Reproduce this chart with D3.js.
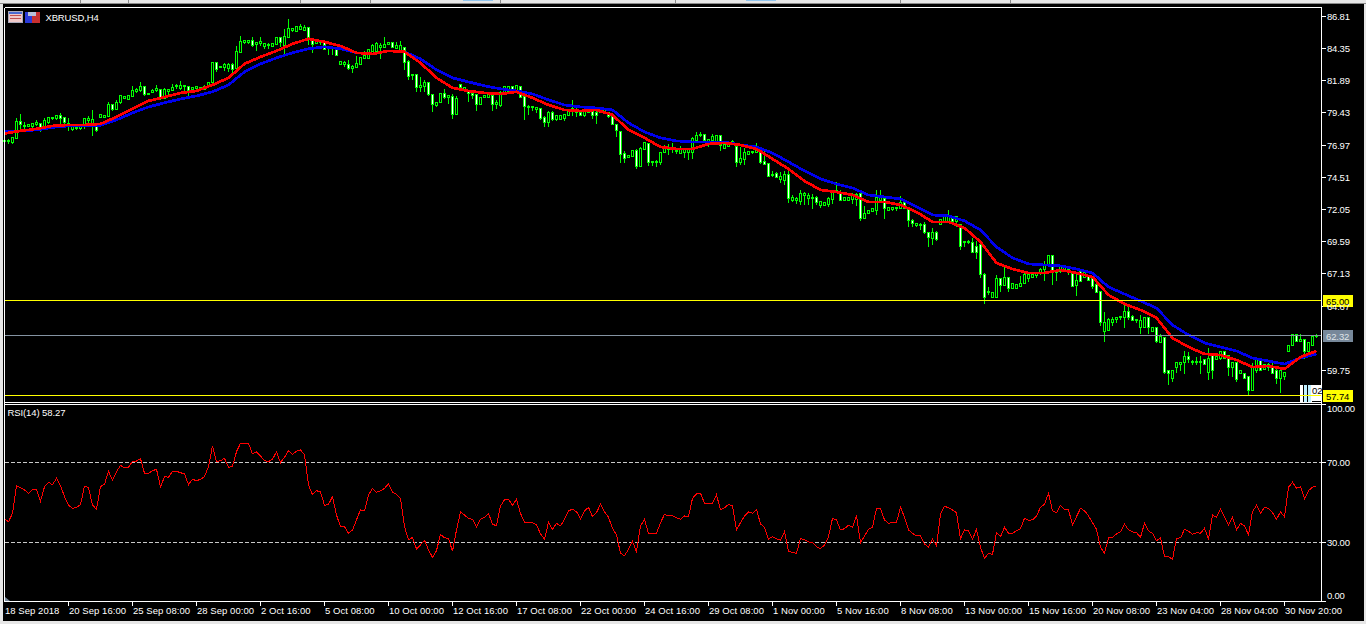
<!DOCTYPE html>
<html><head><meta charset="utf-8">
<script src="https://cdnjs.cloudflare.com/ajax/libs/d3/7.8.5/d3.min.js"></script>
<style>
html,body{margin:0;padding:0;background:#000;overflow:hidden}
svg{display:block}
text{font-family:"Liberation Sans",Arial,sans-serif;font-size:9.5px;fill:#fff}
.axis{letter-spacing:-.2px}
.time{letter-spacing:.05px}
.title{letter-spacing:-.15px}
.rsi{letter-spacing:-.1px}
</style></head><body>
<div id="chart"></div>
<script>
const symbolLabel="XBRUSD,H4", rsiLabel="RSI(14) 58.27";
const timeLabels=["18 Sep 2018","20 Sep 16:00","25 Sep 08:00","28 Sep 00:00","2 Oct 16:00","5 Oct 08:00","10 Oct 00:00","12 Oct 16:00","17 Oct 08:00","22 Oct 00:00","24 Oct 16:00","29 Oct 08:00","1 Nov 00:00","5 Nov 16:00","8 Nov 08:00","13 Nov 00:00","15 Nov 16:00","20 Nov 08:00","23 Nov 04:00","28 Nov 04:00","30 Nov 20:00"];
const priceTicks=[86.81,84.35,81.89,79.43,76.97,74.51,72.05,69.59,67.13,64.67,59.75];
const rsiTicks=[100,70,30,0];
const rsiLevels=[70,30];
const levelHigh=65.00, levelLow=57.74, lastPrice=62.32;

const opens=[77.13,77.13,77.06,77.36,78.66,78.28,78.28,78.28,78.43,78.51,
78.28,78.59,78.97,78.89,79.12,78.97,78.51,78.05,78.13,78.13,
78.28,78.74,78.28,78.28,78.97,78.97,79.05,79.96,79.58,80.12,
80.42,80.35,80.57,80.96,81.03,81.34,80.73,80.88,81.03,81.11,
80.42,80.96,81.03,81.34,81.19,81.34,81.34,81.11,81.19,81.19,
81.11,81.34,81.64,83.17,82.79,82.79,82.72,83.02,82.72,83.94,
84.70,84.70,84.86,84.55,84.63,84.40,84.47,84.40,84.55,85.09,
84.47,85.09,85.62,85.54,85.70,85.62,85.85,84.86,84.63,84.70,
84.70,84.25,84.25,84.25,83.02,83.02,83.02,82.72,82.79,83.02,
83.48,83.48,84.02,84.02,84.32,84.32,84.55,84.70,84.25,84.02,
84.32,83.25,82.18,82.26,81.26,81.34,81.64,80.73,79.89,80.12,
80.80,80.50,80.57,79.20,81.49,81.03,81.03,80.80,80.73,79.96,
80.50,80.50,80.65,79.96,79.89,80.88,80.96,81.34,80.96,81.34,
80.57,79.73,79.73,79.58,79.66,78.97,78.59,79.35,78.82,78.82,
78.89,79.12,79.50,79.35,79.35,79.12,79.35,79.43,79.35,79.35,
79.27,79.35,79.05,78.43,77.90,76.22,75.91,75.99,76.45,75.22,
76.52,76.98,75.53,75.53,75.53,76.29,76.52,76.52,76.37,76.22,
76.29,76.29,76.29,77.21,77.59,77.67,77.06,77.21,77.13,77.59,
76.60,76.75,76.90,76.75,75.53,75.76,76.14,76.29,76.29,76.52,
75.61,75.45,74.53,74.69,74.23,74.15,74.61,72.62,72.62,72.55,
73.01,72.78,72.78,72.85,72.24,72.24,72.32,72.70,73.24,73.16,
72.62,72.62,72.70,72.70,73.16,71.32,71.63,71.78,71.86,72.62,
72.78,71.86,71.94,72.01,72.01,72.47,72.01,71.10,70.71,70.71,
70.79,70.18,69.72,70.18,70.79,70.94,71.02,71.40,71.02,70.79,
69.41,69.41,69.41,69.18,69.26,67.04,65.59,65.21,65.21,66.66,
66.13,66.81,65.97,65.97,66.05,66.28,66.66,66.81,66.89,67.12,
67.35,67.73,68.42,67.12,67.20,67.20,67.27,67.12,66.13,67.20,
66.81,66.89,66.74,66.20,65.67,62.61,62.76,63.37,63.53,63.68,
63.75,64.21,63.83,63.45,62.99,62.99,63.75,62.61,62.99,61.84,
62.15,59.70,59.02,59.93,60.16,60.24,60.70,60.24,60.31,60.24,
60.47,59.55,61.00,60.54,60.62,61.08,60.85,59.86,60.31,59.47,
59.47,59.17,58.17,59.70,60.47,59.78,59.86,59.86,59.63,59.09,
59.17,61.08,61.61,62.38,61.92,62.07,61.08,61.61,62.23];
const highs=[77.29,77.36,77.44,78.97,79.27,78.66,78.43,78.59,78.82,78.51,
78.97,79.05,78.97,79.20,79.35,78.97,78.97,78.28,78.20,78.36,
78.97,79.12,79.58,78.28,79.20,79.12,80.19,79.96,80.35,80.65,
80.57,80.65,81.42,81.26,81.72,81.34,80.80,81.19,81.49,81.19,
81.26,81.11,81.57,81.57,81.80,81.49,81.34,81.34,81.34,81.34,
81.49,81.64,83.25,83.17,82.87,83.17,83.17,83.17,84.47,85.24,
84.86,84.86,85.16,84.78,85.16,84.70,84.70,84.63,85.09,85.16,
85.77,86.54,85.77,86.00,86.16,86.08,85.85,84.86,84.86,84.86,
84.78,84.32,84.32,84.25,83.33,83.33,83.40,83.02,83.71,83.56,
84.09,84.17,84.63,84.78,84.70,85.16,84.70,84.70,84.78,84.86,
84.32,83.40,82.26,82.33,82.10,81.87,81.72,80.73,80.19,80.80,
81.19,80.73,80.80,80.65,81.49,81.26,81.03,81.11,80.73,80.50,
80.65,80.88,80.80,80.35,81.03,81.42,81.42,81.42,81.49,81.34,
80.57,79.96,79.89,79.81,79.73,79.12,79.50,79.50,79.12,79.12,
79.20,79.58,80.35,79.73,79.50,79.66,79.73,79.66,79.58,79.66,
79.66,79.35,79.05,78.43,77.90,76.45,76.06,76.45,76.60,76.75,
77.13,76.98,75.61,75.76,76.29,76.90,76.98,77.06,76.52,76.83,
76.52,76.52,77.52,77.90,77.90,77.67,77.29,77.75,77.59,77.59,
76.90,76.90,77.29,76.75,76.75,76.67,76.37,76.45,77.06,76.52,
76.52,75.45,74.92,74.84,74.84,74.92,74.92,73.08,72.93,73.46,
73.31,73.24,73.16,73.01,72.62,72.47,72.93,73.24,74.08,73.46,
72.85,72.85,73.24,73.24,73.16,72.24,71.86,72.09,73.46,73.46,
72.78,72.17,72.09,72.17,73.01,72.47,72.01,71.25,70.94,70.94,
71.02,70.18,70.56,70.33,71.17,71.48,71.94,71.40,71.48,70.79,
69.49,69.64,69.80,69.57,69.26,67.12,66.05,65.67,66.97,66.66,
67.58,66.81,66.28,66.20,66.89,67.20,66.97,66.97,67.20,67.50,
68.04,68.42,68.42,67.20,67.58,67.58,67.50,67.12,67.12,67.20,
67.12,66.89,66.74,66.20,65.67,64.14,63.75,63.83,63.83,63.83,
64.83,64.52,63.91,63.60,63.91,63.75,63.75,62.92,62.99,62.53,
62.15,59.70,59.70,60.31,60.31,61.23,61.08,60.47,60.70,60.85,
60.62,61.46,61.00,60.77,61.08,61.08,60.85,60.24,60.31,59.63,
59.47,59.17,60.31,60.47,60.47,60.16,60.31,60.31,59.86,59.86,
59.55,61.61,62.53,62.38,62.46,62.07,61.84,62.23,62.46];
const lows=[77.06,76.98,76.98,77.36,78.13,78.05,78.28,78.13,78.36,77.90,
78.20,78.51,78.82,78.82,78.51,78.43,77.98,77.98,78.05,78.05,
78.13,78.59,77.59,77.90,78.97,78.97,79.05,79.50,79.58,80.04,
80.42,80.35,80.57,80.88,80.96,80.65,80.73,80.88,80.96,80.35,
80.42,80.57,81.03,81.19,81.11,81.03,80.65,81.03,80.96,81.11,
81.11,81.34,81.64,82.49,82.79,82.56,82.49,82.41,82.41,83.94,
84.63,84.63,84.40,84.09,84.47,84.25,84.25,84.40,84.55,84.40,
83.71,85.09,85.54,85.54,85.70,85.62,84.55,83.94,84.63,84.55,
84.17,83.79,83.79,83.71,83.02,82.87,82.64,82.41,82.79,83.02,
83.48,83.48,84.02,84.02,83.48,84.32,84.55,84.32,84.25,84.02,
82.64,81.87,81.87,80.96,80.96,80.96,80.65,79.43,79.81,80.12,
80.42,80.04,78.89,79.20,81.26,80.96,80.19,80.42,79.50,79.96,
80.50,80.50,79.50,79.66,79.81,80.88,80.96,80.96,80.96,80.50,
78.82,79.20,79.50,79.35,78.82,78.28,78.28,78.74,78.74,78.82,
78.74,79.12,79.12,79.05,79.12,79.05,79.35,78.89,78.51,79.35,
79.27,78.97,78.43,77.52,75.53,75.53,75.91,75.99,75.07,75.22,
76.52,75.30,75.30,75.22,75.38,76.29,76.14,76.29,76.22,76.22,
75.91,75.76,75.83,77.21,77.52,77.21,76.75,77.06,77.13,76.45,
76.60,76.75,76.90,75.22,75.38,75.38,76.14,76.22,76.29,75.45,
75.38,74.46,74.46,74.38,74.00,73.85,72.47,72.55,72.39,72.32,
72.32,72.32,72.01,72.32,72.09,72.24,72.17,72.39,73.24,72.62,
72.62,72.62,72.39,72.24,71.10,71.32,71.63,71.78,71.55,72.62,
71.25,71.86,71.86,71.86,72.01,72.01,70.64,70.64,70.64,70.41,
70.10,69.18,69.26,69.57,70.79,70.94,71.02,70.79,70.64,68.88,
69.11,69.34,68.65,68.19,66.74,64.75,65.51,65.21,65.21,65.67,
66.13,65.74,65.97,65.97,66.05,66.28,66.43,66.74,66.81,67.04,
66.58,67.73,66.20,66.58,67.12,67.20,66.97,66.05,65.36,66.43,
66.81,66.51,65.90,65.59,63.14,61.92,62.76,63.14,63.30,63.53,
62.99,63.53,63.45,63.37,62.53,62.92,62.46,62.61,61.77,61.84,
59.47,58.56,58.79,59.55,59.70,59.47,60.24,60.16,60.09,59.47,
60.09,58.94,59.09,60.47,60.47,60.62,59.32,59.17,58.79,59.40,
59.09,57.79,58.17,59.55,59.70,59.78,59.70,59.47,58.71,58.02,
58.94,61.08,61.61,61.92,61.92,60.62,61.08,61.61,62.15];
const closes=[77.21,77.21,77.44,78.66,78.43,78.36,78.43,78.51,78.59,78.13,
78.74,78.97,78.89,79.12,78.89,78.59,78.28,78.28,78.20,78.28,
78.89,78.89,78.82,77.98,79.20,79.12,79.96,79.58,80.12,80.65,
80.57,80.65,81.03,81.11,81.34,80.73,80.80,81.03,81.19,80.50,
81.11,81.11,81.26,81.42,81.42,81.42,81.03,81.26,81.34,81.26,
81.34,81.64,83.17,82.64,82.87,83.02,83.02,82.64,84.02,84.78,
84.86,84.86,84.47,84.70,84.78,84.63,84.55,84.63,85.09,84.70,
85.16,85.77,85.77,85.93,85.93,85.85,85.09,84.55,84.86,84.86,
84.17,84.32,84.32,83.71,83.25,83.17,82.72,82.87,83.10,83.56,
83.71,84.17,84.47,84.63,84.47,84.55,84.70,84.32,84.47,84.47,
83.17,82.10,82.26,81.26,81.42,81.64,80.73,79.96,80.12,80.80,
80.50,80.65,79.20,80.42,81.26,81.26,80.80,80.65,79.96,80.50,
80.65,80.88,79.96,80.12,80.88,81.34,81.34,80.96,81.42,80.50,
79.81,79.81,79.81,79.73,78.89,78.59,79.35,78.82,79.12,79.12,
79.20,79.58,79.66,79.50,79.12,79.43,79.66,79.12,79.12,79.66,
79.66,79.05,78.43,77.98,76.14,75.83,76.06,76.45,75.22,76.60,
77.06,75.53,75.61,75.61,76.29,76.75,76.67,76.60,76.45,76.52,
76.52,76.52,77.36,77.59,77.67,77.21,77.29,77.52,77.59,76.83,
76.90,76.90,77.13,75.53,75.83,76.29,76.37,76.37,76.45,75.53,
75.38,74.46,74.61,74.38,74.46,74.61,72.78,72.85,72.78,73.16,
73.16,73.01,72.85,72.47,72.55,72.47,72.78,73.24,73.39,72.62,
72.85,72.85,73.01,73.08,71.32,71.63,71.86,72.01,72.85,72.85,
72.01,72.09,72.09,72.09,72.47,72.01,71.10,70.87,70.87,70.79,
70.18,69.80,70.18,69.64,71.17,71.40,71.40,71.02,71.40,69.11,
69.49,69.49,68.65,68.65,66.97,65.28,65.74,65.59,66.66,66.13,
66.81,65.97,66.28,66.20,66.35,66.97,66.97,66.97,67.12,67.42,
67.73,68.42,67.12,67.20,67.58,67.58,67.35,66.05,66.58,66.43,
67.12,66.51,66.05,65.59,63.30,63.30,63.60,63.60,63.68,63.83,
64.21,63.68,63.45,63.60,63.45,63.75,62.99,62.92,61.92,62.23,
59.55,59.47,59.70,60.31,60.31,60.70,60.47,60.39,60.39,60.39,
60.16,60.62,59.63,60.70,61.08,60.62,59.86,60.24,58.94,59.63,
59.09,58.17,59.86,60.47,59.70,60.16,60.09,59.47,59.02,59.63,
59.55,61.61,62.38,61.92,62.07,61.08,61.84,62.23,62.32];

// moving averages, read every fourth bar
const maStep=4;
const maRed=[77.78,77.98,78.13,78.36,78.43,78.43,78.51,79.05,79.66,80.27,80.57,80.88,81.03,81.49,82.03,83.10,83.63,84.09,84.63,85.01,84.78,84.47,83.94,83.86,84.09,84.02,83.17,82.03,81.26,81.03,80.88,80.80,80.96,80.50,79.96,79.58,79.50,79.58,79.20,78.05,77.44,76.75,76.60,76.60,76.98,77.06,76.90,76.60,75.83,75.07,74.15,73.46,73.31,73.08,72.55,72.55,72.32,71.78,71.02,71.02,70.56,69.49,67.88,67.42,67.12,67.12,67.35,67.12,66.81,65.44,64.75,64.29,63.68,62.15,61.46,60.93,60.85,60.47,59.93,60.01,59.78,60.70,61.16];
const maBlue=[77.90,77.98,78.05,78.24,78.36,78.36,78.40,78.82,79.35,79.81,80.12,80.42,80.65,80.96,81.49,82.49,83.10,83.56,83.94,84.25,84.40,84.25,83.94,83.86,84.09,84.02,83.48,82.64,82.03,81.72,81.42,81.19,81.03,80.80,80.35,79.96,79.81,79.73,79.58,78.59,77.90,77.44,77.21,77.13,77.13,77.13,76.90,76.75,76.29,75.61,74.92,74.31,73.92,73.62,73.08,72.93,72.78,72.17,71.55,71.48,71.10,70.41,69.11,68.27,67.81,67.73,67.66,67.42,67.12,66.05,65.51,64.98,64.44,63.14,62.38,61.77,61.46,61.16,60.62,60.39,60.16,60.62,60.93];

const rsi=[41.6,40.3,44.5,58.3,57.3,56.2,54.5,56.5,56.5,50.6,57.8,60,58.8,62,58.3,52.8,48.6,47,47.5,48.8,
58.1,57.3,48.6,46.5,57.8,59,65.5,61,65.3,68.5,67.2,67.5,70.5,70.6,71.8,64.5,64.5,65.8,66.5,57.8,
62.8,62.5,65.5,65.5,64.8,64.2,58.8,61.5,60.8,61.5,62.8,67.8,78.2,70.3,70.8,72,67.5,68,75.3,79.5,
79.5,79.5,74.2,75.2,73.2,70.8,70.3,71.5,75.2,69.8,72.5,75.8,74,75.5,76.2,73.7,58.7,53.8,55.8,55.2,
48.5,49,52.8,43.6,37.8,37.8,34.5,36.2,41.2,46.2,45.7,53.7,57,55,55.7,57,59.2,55,54,52,
37.8,31.2,32.5,26.7,28.7,31,26.2,22.5,25.8,34,32.2,32,25.5,36.2,45.2,43.7,41.8,41.5,37.5,41.5,
42.5,44.5,39,38.3,48.1,51.3,51.5,48.6,51.5,44.5,40,40,39.8,38.8,34.2,31.5,40,36.5,39.5,38.2,
41.5,45.8,46.5,45.3,41.8,45.7,47.5,42.8,44.8,49.1,45.3,42.5,37,33.7,24.5,23.3,26.5,30.5,25.3,38.2,
41.5,34.5,34.5,34.5,39.8,44,43.2,43.2,42.2,41.5,43.2,42.8,52,54.2,54.5,49.5,49.5,49.5,53.8,46.2,
47.2,49,48.2,36.2,39.8,43.2,45.2,44.5,46.5,39.2,37.5,31.6,32.8,31.8,31,35.3,25.3,25,24.5,32,
31.2,30.2,29.8,27.8,26.8,28.7,32.8,42,41.2,36.2,36.8,38.5,37.5,43.5,29.8,33.2,36.5,37.5,47,46.8,
41.2,39.5,40,40,47.5,42.5,36.2,34.5,33.2,33.2,29.2,27.5,31.5,28.3,44.2,48,47.3,46.2,44.8,31.8,
36.2,35.7,31.5,36.5,27.5,22,24.5,24,34.8,32.8,37.5,34.5,34.5,35.7,36.8,42,41,41.2,43.2,47.5,
49.1,54.5,45.8,44.8,48.5,46.5,46.2,38.8,42.8,47,45.8,43.2,39.8,36.5,27.5,24.5,32.2,32.5,34.2,35.2,
39.2,36.2,35.2,34.8,32.5,39.5,35.7,34.5,30.8,32.2,22.8,22.8,21.5,32,32.2,36.5,35.5,34,34.8,34.5,
37,31.8,43.7,42.5,46.5,42.5,38.5,42.5,36.2,39.5,38.2,33.8,45.3,48.5,44.5,47.5,47,44.8,41.5,45.2,
42.8,57.5,60,57,57.8,51.8,55.8,57.5,58.27];

const W=1366,H=624;
const X=d3.scaleLinear().domain([0,opens.length-1]).range([4.5,1316.5]);
const Y=d3.scaleLinear().domain([57.74,65]).range([395.7,300.7]);
const R=d3.scaleLinear().domain([0,100]).range([602.3,402.3]);
const snap=v=>Math.round(v-0.5)+0.5;

const svg=d3.select("#chart").append("svg").attr("width",W).attr("height",H);
// window chrome
svg.append("rect").attr("width",W).attr("height",H).attr("fill","#000");
const chrome="#e6e6e6";
svg.append("rect").attr("width",W).attr("height",3).attr("fill",chrome);
svg.append("rect").attr("y",3).attr("width",W).attr("height",1).attr("fill","#8a8a8a");
svg.append("rect").attr("y",4).attr("width",3).attr("height",H-4).attr("fill",chrome);
svg.append("rect").attr("y",621).attr("width",W).attr("height",3).attr("fill",chrome);
svg.append("rect").attr("x",1364).attr("y",4).attr("width",2).attr("height",H-4).attr("fill",chrome);
[80,128,300,370,500,675,900,1010].forEach(x=>svg.append("rect").attr("x",x).attr("y",0).attr("width",1).attr("height",3).attr("fill","#8a8a8a"));
svg.append("rect").attr("x",463).attr("y",0).attr("width",30).attr("height",1).attr("fill","#90c4ee");
svg.append("rect").attr("x",746).attr("y",0).attr("width",30).attr("height",1).attr("fill","#90c4ee");

const crisp=svg.append("g").attr("shape-rendering","crispEdges");

// candles
const bars=d3.range(opens.length);
crisp.append("g").selectAll("line").data(bars).join("line")
 .attr("x1",i=>X(i)).attr("x2",i=>X(i))
 .attr("y1",i=>snap(Y(highs[i]))).attr("y2",i=>snap(Y(lows[i]))+0.5)
 .attr("stroke","#00ff00").attr("stroke-width",1);
crisp.append("g").selectAll("rect").data(bars).join("rect")
 .attr("x",i=>X(i)-1).attr("width",2)
 .attr("y",i=>snap(Y(Math.max(opens[i],closes[i]))))
 .attr("height",i=>Math.max(0,snap(Y(Math.min(opens[i],closes[i])))-snap(Y(Math.max(opens[i],closes[i])))))
 .attr("fill",i=>closes[i]<opens[i]?"#fff":"#000")
 .attr("stroke","#00ff00").attr("stroke-width",1);

// price artefact near the last bars
[[1300,3,"#fff"],[1304,3,"#bfefff"],[1308,3,"#bfefff"],[1311,1,"#fff"]].forEach(d=>
 crisp.append("rect").attr("x",d[0]).attr("y",385).attr("width",d[1]).attr("height",17).attr("fill",d[2]));
crisp.append("rect").attr("x",1312).attr("y",385).attr("width",10).attr("height",16).attr("fill","#fff");
svg.append("text").attr("x",1312).attr("y",394).style("fill","#000").text("02");

// moving averages
const lineMa=d3.line().x((d,i)=>X(i*maStep)).y(d=>Y(d));
crisp.append("path").datum(maBlue).attr("d",lineMa).attr("fill","none").attr("stroke","#0000ee").attr("stroke-width",2.7);
crisp.append("path").datum(maRed).attr("d",lineMa).attr("fill","none").attr("stroke","#ff0000").attr("stroke-width",2.7);

// horizontal levels
[[levelHigh,"#ffff00"],[levelLow,"#ffff00"],[lastPrice,"#8493a2"]].forEach(d=>
 crisp.append("line").attr("x1",5).attr("x2",1322).attr("y1",snap(Y(d[0]))).attr("y2",snap(Y(d[0]))).attr("stroke",d[1]));

// RSI
rsiLevels.forEach(v=>crisp.append("line").attr("x1",5).attr("x2",1321).attr("y1",snap(R(v))).attr("y2",snap(R(v)))
  .attr("stroke","#c8c8c8").attr("stroke-dasharray","4 2"));
crisp.append("path").datum(rsi).attr("d",d3.line().x((d,i)=>X(i)).y(d=>R(d))).attr("fill","none").attr("stroke","#ff0000").attr("stroke-width",1);

// frames
const frame=(x1,y1,x2,y2)=>crisp.append("line").attr("x1",x1).attr("y1",y1).attr("x2",x2).attr("y2",y2).attr("stroke","#fff");
frame(4.5,7.5,1321.5,7.5);frame(4.5,7.5,4.5,601.5);frame(1321.5,7.5,1321.5,601.5);
frame(4.5,402.5,1321.5,402.5);frame(4.5,404.5,1321.5,404.5);frame(4.5,601.5,1321.5,601.5);

// price axis
priceTicks.forEach(v=>{
  const y=snap(Y(v))+1;
  frame(1322,y,1326,y);
  svg.append("text").attr("class","axis").attr("x",1327).attr("y",y+3.5).text(v.toFixed(2));
});
// RSI axis
rsiTicks.forEach(v=>{
  const ty=Math.min(601.5,Math.max(404.5,snap(R(v))));
  frame(1322,ty,1326,ty);
  const ly=Math.min(595,Math.max(408.5,snap(R(v))));
  svg.append("text").attr("class","axis").attr("x",1327).attr("y",ly+3.5).text(v.toFixed(2));
});
// price badges
[[levelHigh,"#ffff00","#000"],[lastPrice,"#77889a","#dfe4e8"],[levelLow,"#ffff00","#000"]].forEach(d=>{
  const y=snap(Y(d[0]));
  crisp.append("rect").attr("x",1323).attr("y",y-6).attr("width",30).attr("height",12).attr("fill",d[1]);
  svg.append("text").attr("x",1326).attr("y",y+4).style("fill",d[2]).style("letter-spacing","-.1px").text(d[0].toFixed(2));
});

// time axis
timeLabels.forEach((t,k)=>{
  const xp=Math.floor(X(k*16));
  if(k>0) frame(xp+0.5,601.5,xp+0.5,605.5);
  svg.append("text").attr("class","time").attr("x",xp+1).attr("y",614).text(t);
});
// corner marker
svg.append("path").attr("d","M5,597L5,601L10,601Z").attr("fill","#77889a");

// labels
svg.append("text").attr("class","title").attr("x",45.5).attr("y",21).text(symbolLabel);
svg.append("text").attr("class","rsi").attr("x",7.5).attr("y",416).text(rsiLabel);

// toolbar icons
const ic=svg.append("g").attr("shape-rendering","crispEdges");
ic.append("rect").attr("x",8.5).attr("y",11.5).attr("width",14).attr("height",11).attr("fill","#f0c8c8").attr("stroke","#aab");
ic.append("rect").attr("x",9).attr("y",12).attr("width",13).attr("height",2).attr("fill","#4a6ad0");
[15,18].forEach(y=>ic.append("rect").attr("x",10).attr("y",y).attr("width",11).attr("height",1).attr("fill","#c05050"));
ic.append("rect").attr("x",25).attr("y",12).attr("width",7).attr("height",11).attr("fill","#2a3ad8");
ic.append("rect").attr("x",32).attr("y",12).attr("width",8).attr("height",11).attr("fill","#c83030");
ic.append("rect").attr("x",28).attr("y",12).attr("width",8).attr("height",4).attr("fill","#b8c0d8");
</script>
</body></html>
